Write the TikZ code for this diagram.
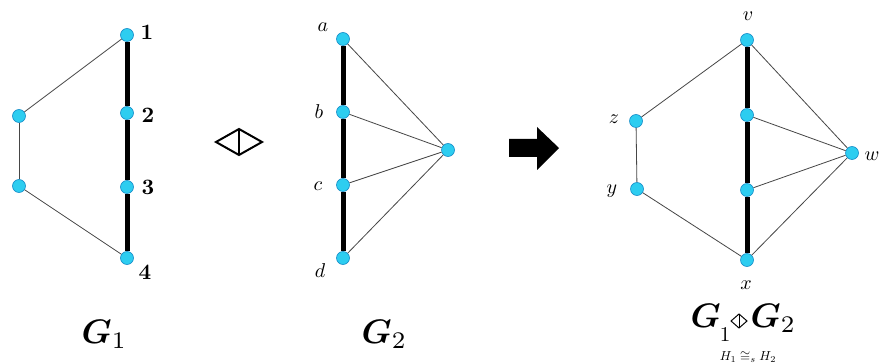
\documentclass[tikz,border=0pt]{standalone}
\usepackage{amsmath,amssymb,bm}
\definecolor{vfill}{RGB}{45,205,240}
\definecolor{vline}{RGB}{20,140,200}
\definecolor{thinc}{RGB}{70,70,70}
\begin{document}
\begin{tikzpicture}[x=1pt,y=-1pt,
  vert/.style={circle,fill=vfill,draw=vline,line width=0.6pt,inner sep=0pt,minimum size=13pt},
  thick edge/.style={line width=5pt,black},
  thin edge/.style={line width=0.8pt,thinc},
  numlab/.style={font=\bfseries,scale=2.2,inner sep=0pt},
  letlab/.style={scale=2.0,inner sep=0pt},
  captxt/.style={scale=3.4,inner sep=0pt,anchor=base west},
  opline/.style={line width=2pt,black,line join=miter}]
\useasboundingbox[fill=white] (0,0) rectangle (891,363);
% ---- G1
\node[vert] (n1) at (127,35) {};
\node[vert] (n2) at (127,113) {};
\node[vert] (n3) at (127,187) {};
\node[vert] (n4) at (127,258) {};
\node[vert] (l1) at (19,116) {};
\node[vert] (l2) at (19,186) {};
\draw[thin edge] (n1) -- (l1);
\draw[thin edge] (l1) -- (l2);
\draw[thin edge] (l2) -- (n4);
\draw[thick edge] (n1) -- (n2);
\draw[thick edge] (n2) -- (n3);
\draw[thick edge] (n3) -- (n4);
\node[numlab] (t1) at (147,32) {1};
\node[numlab] (t2) at (148,115) {2};
\node[numlab] (t3) at (148,187) {3};
\node[numlab] (t4) at (145,272) {4};
% ---- operator
\coordinate (dl) at (216,142);
\coordinate (dt) at (239,129);
\coordinate (dr) at (262,142);
\coordinate (db) at (239,155);
\draw[opline] (dl) -- (dt) -- (dr) -- (db) -- cycle;
\draw[opline] (dt) -- (db);
% ---- G2
\node[vert] (a) at (343,39) {};
\node[vert] (b) at (343,112) {};
\node[vert] (c) at (343,185) {};
\node[vert] (d) at (343,258) {};
\node[vert] (r) at (448,150) {};
\draw[thin edge] (a) -- (r);
\draw[thin edge] (b) -- (r);
\draw[thin edge] (c) -- (r);
\draw[thin edge] (d) -- (r);
\draw[thick edge] (a) -- (b);
\draw[thick edge] (b) -- (c);
\draw[thick edge] (c) -- (d);
\node[letlab] (ta) at (323,27) {$a$};
\node[letlab] (tb) at (319,112) {$b$};
\node[letlab] (tc) at (318,186) {$c$};
\node[letlab] (td) at (320,271) {$d$};
% ---- block arrow
\fill[black] (509,139) -- (537,139) -- (537,127) -- (559,148) -- (537,170) -- (537,157) -- (509,157) -- cycle;
% ---- G1 (op) G2
\node[vert] (v) at (747,40) {};
\node[vert] (m1) at (747,115) {};
\node[vert] (m2) at (747,190) {};
\node[vert] (x) at (747,260) {};
\node[vert] (z) at (636,121) {};
\node[vert] (y) at (637,189) {};
\node[vert] (w) at (852,153) {};
\draw[thin edge] (v) -- (z);
\draw[thin edge] (z) -- (y);
\draw[thin edge] (y) -- (x);
\draw[thin edge] (v) -- (w);
\draw[thin edge] (m1) -- (w);
\draw[thin edge] (m2) -- (w);
\draw[thin edge] (x) -- (w);
\draw[thick edge] (v) -- (m1);
\draw[thick edge] (m1) -- (m2);
\draw[thick edge] (m2) -- (x);
\node[letlab] (tv) at (748,16) {$v$};
\node[letlab] (tz) at (614,119) {$z$};
\node[letlab] (tw) at (872,156) {$w$};
\node[letlab] (ty) at (612,191) {$y$};
\node[letlab] (tx) at (746,285) {$x$};
% ---- captions
\node[captxt] (c1) at (81,343) {$\bm{G}_{1}$};
\node[captxt] (c2) at (361,343) {$\bm{G}_{2}$};
\node[captxt] (c31) at (690,327) {$\bm{G}$};
\node[scale=2.1,inner sep=0pt] (s31) at (725,335) {$1$};
\node[captxt] (c32) at (750,327) {$\bm{G}_{2}$};
\coordinate (sl) at (731,321);
\coordinate (st) at (739,314);
\coordinate (sr) at (747,321);
\coordinate (sb) at (739,328);
\draw[line width=1pt] (sl) -- (st) -- (sr) -- (sb) -- cycle;
\draw[line width=1pt] (st) -- (sb);
\node[scale=1.3,inner sep=0pt] (hs) at (748,357) {$H_1\cong_s H_2$};
\end{tikzpicture}
\end{document}
